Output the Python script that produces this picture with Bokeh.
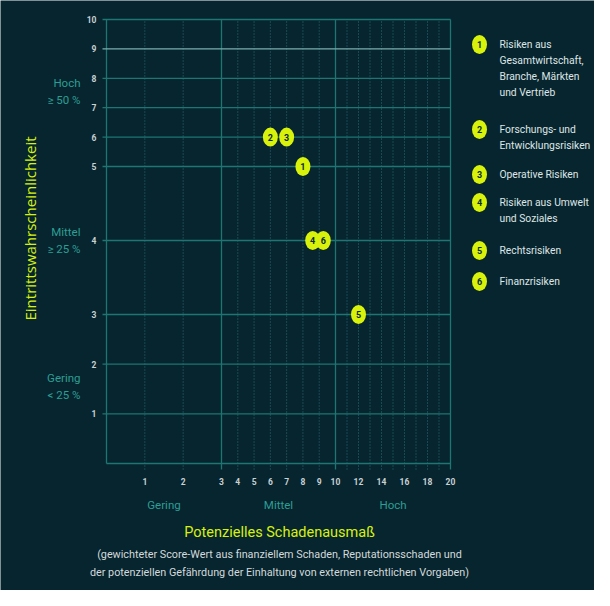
import numpy as np
from bokeh.plotting import figure
from bokeh.models import Range1d, ColumnDataSource
from bokeh.embed import file_html
from bokeh.resources import INLINE
from bokeh.core.properties import value

# ---------------- data ----------------
risk_ids = ["1", "2", "3", "4", "5", "6"]
damage = [8, 6, 7, 8.6, 12, 9.25]          # potenzielles Schadenausmaß (score)
probability = [5, 6, 6, 4, 3, 4]           # Eintrittswahrscheinlichkeit (score)

legend_lines = [
    ["Risiken aus", "Gesamtwirtschaft,", "Branche, Märkten", "und Vertrieb"],
    ["Forschungs- und", "Entwicklungsrisiken"],
    ["Operative Risiken"],
    ["Risiken aus Umwelt", "und Soziales"],
    ["Rechtsrisiken"],
    ["Finanzrisiken"],
]

x_ticks = list(range(1, 21))
x_tick_labels = [str(v) if (v <= 10 or v % 2 == 0) else "" for v in x_ticks]
x_solid = [0, 3, 10, 20]
y_ticks = list(range(1, 11))

x_classes = ["Gering", "Mittel", "Hoch"]
x_class_centers = [1.5, 6.5, 15]
y_classes = [("Hoch", "≥ 50 %"), ("Mittel", "≥ 25 %"), ("Gering", "< 25 %")]
y_class_centers = [7.55, 4, 1.55]

x_title = "Potenzielles Schadenausmaß"
x_subtitle = ["(gewichteter Score-Wert aus finanziellem Schaden, Reputationsschaden und",
              "der potenziellen Gefährdung der Einhaltung von externen rechtlichen Vorgaben)"]
y_title = "Eintrittswahrscheinlichkeit"

# piecewise scale definition of the original chart (value -> pixel offset in the grid)
X_BREAKS = [0, 3, 10, 20]
X_SCALE = [0, 115, 229, 344]
Y_BREAKS = [0, 3, 5, 10]
Y_SCALE = [0, 149, 297, 444]


def sx(v):
    return np.interp(v, X_BREAKS, X_SCALE)


def sy(v):
    return np.interp(v, Y_BREAKS, Y_SCALE)


X0, X1 = X_SCALE[0], X_SCALE[-1]
Y0, Y1 = Y_SCALE[0], Y_SCALE[-1]

# ---------------- style ----------------
BG = "#07252f"
GRID = "#1d7672"
GRID_DOT = "#2b7075"
LIME = "#d8f20c"
TEAL_TXT = "#2d9e93"
TICK_TXT = "#c9d1d3"
SUB_TXT = "#d3dadb"
FONT = "Roboto"

p = figure(width=594, height=590, output_backend="svg", toolbar_location=None,
           x_range=Range1d(-106, 488), y_range=Range1d(-127, 463),
           min_border=0, min_border_left=0, min_border_right=0,
           min_border_top=0, min_border_bottom=0)
p.background_fill_color = BG
p.border_fill_color = BG
p.outline_line_color = None
p.axis.visible = False
p.grid.visible = False

# dotted vertical lines (with their small ticks below the axis)
dot_x = sx([v for v in x_ticks if v not in x_solid])
p.segment(x0=dot_x, x1=dot_x, y0=Y0 - 6, y1=Y1, line_color=GRID_DOT, line_width=1,
          line_dash="1 2")
# solid vertical lines
sol_x = sx(x_solid)
p.segment(x0=sol_x, x1=sol_x, y0=[Y0] + [Y0 - 6] * (len(sol_x) - 1), y1=Y1,
          line_color=GRID, line_width=1.3)
# horizontal lines (with ticks to the left)
hy = sy([v for v in y_ticks if v != 9])
p.segment(x0=X0 - 4, x1=X1, y0=hy, y1=hy, line_color=GRID, line_width=1.3)
h9 = sy([9])
p.segment(x0=X0 - 4, x1=X1, y0=h9, y1=h9, line_color="#79aeae", line_width=1.3)
# bottom border
p.segment(x0=[X0], x1=[X1], y0=[Y0], y1=[Y0], line_color=GRID, line_width=1.3)

# tick labels
p.text(x=sx(x_ticks), y=Y0 - 18, text=x_tick_labels, text_align="center",
       text_baseline="middle", text_color=TICK_TXT, text_font=value(FONT),
       text_font_style="bold", text_font_size="8.5px")
p.text(x=X0 - 10, y=sy(y_ticks), text=[str(v) for v in y_ticks], text_align="right",
       text_baseline="middle", text_color=TICK_TXT, text_font=value(FONT),
       text_font_style="bold", text_font_size="8.5px")

# class labels
p.text(x=sx(x_class_centers), y=Y0 - 41, text=x_classes, text_align="center",
       text_baseline="middle", text_color=TEAL_TXT, text_font=value(FONT),
       text_font_size="11.5px")
yc = sy(y_class_centers)
p.text(x=X0 - 26, y=yc + 8.5, text=[c[0] for c in y_classes], text_align="right",
       text_baseline="middle", text_color=TEAL_TXT, text_font=value(FONT),
       text_font_size="11.5px")
p.text(x=X0 - 26, y=yc - 8.5, text=[c[1] for c in y_classes], text_align="right",
       text_baseline="middle", text_color=TEAL_TXT, text_font=value(FONT),
       text_font_size="11.5px")

# axis titles
p.text(x=[(X0 + X1) / 2 + 1], y=[Y0 - 69], text=[x_title], text_align="center",
       text_baseline="middle", text_color=LIME, text_font=value(FONT),
       text_font_size="14.5px")
p.text(x=(X0 + X1) / 2 + 1, y=[Y0 - 91, Y0 - 109], text=x_subtitle, text_align="center",
       text_baseline="middle", text_color=SUB_TXT, text_font=value(FONT),
       text_font_size="10.8px")
p.text(x=[X0 - 77], y=[(Y0 + Y1) / 2 + 13], text=[y_title], angle=np.pi / 2,
       text_align="center", text_baseline="middle", text_color=LIME,
       text_font=value("Open Sans"), text_font_size="15px")

# risk markers
src = ColumnDataSource(dict(x=sx(damage), y=sy(probability), t=risk_ids))
p.ellipse(x="x", y="y", width=15, height=19, width_units="screen", height_units="screen",
          source=src, fill_color=LIME, line_color=None)
p.text(x="x", y="y", text="t", source=src, text_align="center", text_baseline="middle",
       text_color="#0b2a33", text_font=value(FONT), text_font_style="bold",
       text_font_size="9px")

# legend (right of the grid)
LEG_X = X1 + 29
legend_tops = [419, 334, 289, 261, 213, 182]
lsrc = ColumnDataSource(dict(x=[LEG_X] * 6, y=legend_tops, t=risk_ids))
p.ellipse(x="x", y="y", width=15, height=19, width_units="screen", height_units="screen",
          source=lsrc, fill_color=LIME, line_color=None)
p.text(x="x", y="y", text="t", source=lsrc, text_align="center", text_baseline="middle",
       text_color="#0b2a33", text_font=value(FONT), text_font_style="bold",
       text_font_size="9px")
lx, ly, lt = [], [], []
for lines, top in zip(legend_lines, legend_tops):
    for j, line in enumerate(lines):
        lx.append(LEG_X + 20)
        ly.append(top - 16 * j)
        lt.append(line)
p.text(x=lx, y=ly, text=lt, text_align="left", text_baseline="middle",
       text_color="#dfe5e6", text_font=value(FONT), text_font_size="10.3px")

open("out.html", "w").write(file_html(p, INLINE))
